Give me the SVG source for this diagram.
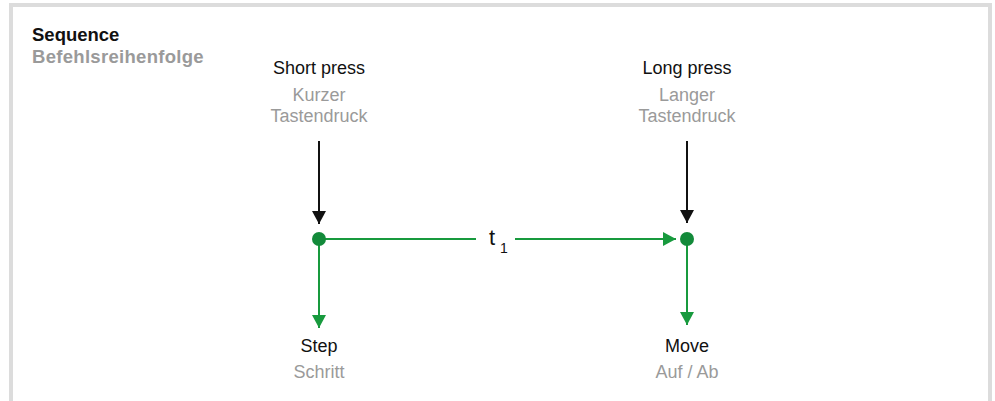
<svg xmlns="http://www.w3.org/2000/svg" width="995" height="401" viewBox="0 0 995 401">
<style>
.t{font-family:"Liberation Sans",Arial,sans-serif;font-size:18px;text-anchor:middle}
.en{fill:#111}
.de{fill:#9a9a9a}
.h{font-family:"Liberation Sans",Arial,sans-serif;font-size:18.5px;font-weight:bold}
.g{stroke:#189a3e;stroke-width:2;fill:none}
.k{stroke:#111;stroke-width:2;fill:none}
.s{font-family:"Liberation Sans",Arial,sans-serif;fill:#111}
</style>
<defs>
<marker id="ag" markerUnits="userSpaceOnUse" markerWidth="13" markerHeight="14" refX="13" refY="7" orient="auto">
<path d="M0,0 L13,7 L0,14 z" fill="#189a3e"/>
</marker>
<marker id="ak" markerUnits="userSpaceOnUse" markerWidth="13" markerHeight="14" refX="13" refY="7" orient="auto">
<path d="M0,0 L13,7 L0,14 z" fill="#111"/>
</marker>
</defs>
<rect x="0" y="0" width="995" height="401" fill="#fff"/>
<rect id="frame" x="11" y="5" width="979" height="420" fill="none" stroke="#dcdcdc" stroke-width="4"/>
<g id="title">
<text class="h" x="32" y="41" fill="#111">Sequence</text>
<text class="h" x="32" y="63" fill="#9a9a9a" letter-spacing="0.3">Befehlsreihenfolge</text>
</g>
<g id="connectors">
<line class="k" x1="319" y1="141" x2="319" y2="224" marker-end="url(#ak)"/>
<line class="k" x1="687" y1="141" x2="687" y2="223" marker-end="url(#ak)"/>
<line class="g" x1="319" y1="239" x2="476" y2="239"/>
<line class="g" x1="515" y1="239" x2="676" y2="239" marker-end="url(#ag)"/>
<line class="g" x1="319" y1="239" x2="319" y2="328" marker-end="url(#ag)"/>
<line class="g" x1="687" y1="239" x2="687" y2="325" marker-end="url(#ag)"/>
<text class="s" x="489" y="245" font-size="22">t</text>
<text class="s" x="500" y="253" font-size="14">1</text>
</g>
<g id="short-press">
<text class="t en" x="319" y="74">Short press</text>
<text class="t de" x="319" y="101">Kurzer</text>
<text class="t de" x="319" y="122">Tastendruck</text>
</g>
<g id="long-press">
<text class="t en" x="687" y="74">Long press</text>
<text class="t de" x="687" y="101">Langer</text>
<text class="t de" x="687" y="122">Tastendruck</text>
</g>
<g id="node-short"><circle cx="319" cy="239" r="7" fill="#138a3a"/></g>
<g id="node-long"><circle cx="687" cy="239" r="7" fill="#138a3a"/></g>
<g id="step">
<text class="t en" x="319" y="352">Step</text>
<text class="t de" x="319" y="378">Schritt</text>
</g>
<g id="move">
<text class="t en" x="687" y="352">Move</text>
<text class="t de" x="687" y="378">Auf / Ab</text>
</g>
</svg>
